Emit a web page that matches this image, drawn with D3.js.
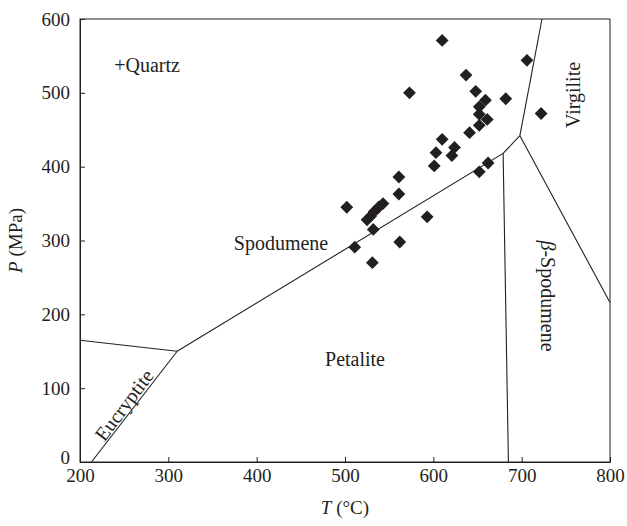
<!DOCTYPE html>
<html>
<head>
<meta charset="utf-8">
<script src="https://cdn.jsdelivr.net/npm/d3@7"></script>
<style>
  body { margin: 0; background: #fff; }
  svg text { font-family: "Liberation Serif", "Times New Roman", "DejaVu Serif", serif; fill: #231f20; }
</style>
</head>
<body>
<svg id="chart"></svg>
<script>
var width = 627;
var height = 526;
var margin = {top: 19, right: 17, bottom: 64, left: 80};

// measured points (T in °C, P in MPa)
var tempValues = [610, 637, 573, 648, 659, 652, 652, 661, 682, 706, 722, 652, 641, 610, 624, 621, 603, 601,
                  662, 652, 593, 561, 561, 502, 525, 529, 533, 538, 543, 532, 511, 562, 531];
var pressValues = [571, 524, 500, 502, 490, 481, 471, 464, 492, 544, 472, 456, 446, 437, 426, 415, 419, 401,
                   405, 393, 332, 386, 363, 345, 328, 333, 339, 345, 350, 315, 291, 298, 270];

// phase boundaries
var boundaries = [
    [[200, 165], [310, 150]],
    [[213, 0], [310, 150]],
    [[310, 150], [679, 418], [698, 442]],
    [[679, 418], [685, 0]],
    [[698, 442], [723, 600]],
    [[698, 442], [800, 216]]
];

var xTicks = [200, 300, 400, 500, 600, 700, 800];
var yTicks = [0, 100, 200, 300, 400, 500, 600];

var svg = d3.select('#chart')
    .attr('width', width)
    .attr('height', height);

var x = d3.scaleLinear().domain([200, 800]).range([margin.left, width - margin.right]);
var y = d3.scaleLinear().domain([0, 600]).range([height - margin.bottom, margin.top]);

// frame
svg.append('rect')
    .attr('x', x(200)).attr('y', y(600))
    .attr('width', x(800) - x(200)).attr('height', y(0) - y(600))
    .attr('fill', 'none').attr('stroke', '#231f20').attr('stroke-width', 1);

var xAxis = svg.append('g')
    .attr('transform', `translate(0, ${y(0)})`)
    .call(d3.axisBottom(x).tickValues(xTicks).tickSizeInner(-5).tickSizeOuter(0).tickPadding(4));
var yAxis = svg.append('g')
    .attr('transform', `translate(${x(200)}, 0)`)
    .call(d3.axisLeft(y).tickValues(yTicks).tickSizeInner(-5).tickSizeOuter(0).tickPadding(10));

[xAxis, yAxis].forEach(function(a) {
    a.attr('font-family', null);
    a.select('.domain').attr('stroke', '#231f20');
    a.selectAll('.tick line').attr('stroke', '#231f20');
    a.selectAll('.tick text').attr('font-size', 19).attr('fill', '#231f20');
});
xAxis.selectAll('.tick text').attr('dy', '0.85em');
// lift the "0" a little so it clears the "200" under it
yAxis.selectAll('.tick text').filter(d => d === 0).attr('dy', '0.1em');

// axis titles
svg.append('text')
    .attr('x', (x(200) + x(800)) / 2).attr('y', 514)
    .attr('text-anchor', 'middle').attr('font-size', 19)
    .html('<tspan font-style="italic">T</tspan> (°C)');
svg.append('text')
    .attr('transform', `translate(22, ${(y(0) + y(600)) / 2}) rotate(-90)`)
    .attr('text-anchor', 'middle').attr('font-size', 19)
    .html('<tspan font-style="italic">P</tspan> (MPa)');

// boundary lines
var line = d3.line().x(d => x(d[0])).y(d => y(d[1]));
svg.selectAll('.boundary')
    .data(boundaries)
    .enter()
    .append('path')
        .classed('boundary', true)
        .attr('d', line)
        .attr('fill', 'none')
        .attr('stroke', '#231f20')
        .attr('stroke-width', 1.1);

// field labels
function label(txt, px, py, rot) {
    svg.append('text')
        .attr('transform', `translate(${px}, ${py}) rotate(${rot || 0})`)
        .attr('text-anchor', 'middle').attr('font-size', 20)
        .attr('dominant-baseline', 'central')
        .html(txt);
}
label('+Quartz', 147, 65);
label('Spodumene', 281, 243);
label('Petalite', 355, 359);
label('Eucryptite', 124, 405, -53);
label('<tspan font-style="italic">β</tspan>-Spodumene', 548, 296, 90);
label('Virgilite', 573, 95, -90);

// data points
var points = tempValues.map((t, i) => [t, pressValues[i]]);
var diamond = d3.symbol().type(d3.symbolSquare).size(82);
svg.selectAll('.pt')
    .data(points)
    .enter()
    .append('path')
        .classed('pt', true)
        .attr('d', diamond)
        .attr('transform', d => `translate(${x(d[0])}, ${y(d[1])}) rotate(45)`)
        .attr('fill', '#231f20');
</script>
</body>
</html>
